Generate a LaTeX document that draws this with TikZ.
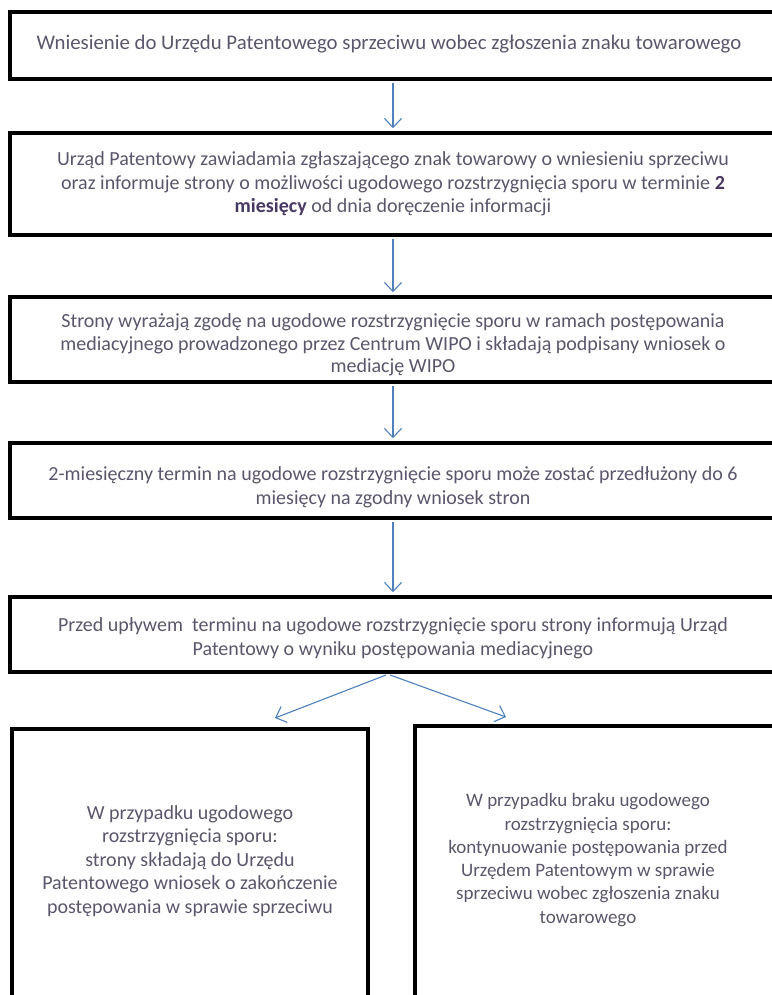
\documentclass[tikz,border=0pt]{standalone}
\usepackage{fontspec}
\setmainfont{Carlito}
\usetikzlibrary{arrows.meta}
\definecolor{txt}{RGB}{92,86,108}
\definecolor{txtb}{RGB}{72,56,98}
\definecolor{arr}{RGB}{79,129,189}
\begin{document}
\begin{tikzpicture}[x=1pt,y=-1pt,
  box/.style={draw=black,line width=4.5pt,rectangle,minimum width=766pt,inner sep=0pt},
  boxtext/.style={text=txt,align=center,font=\fontsize{20pt}{23.5pt}\selectfont,inner sep=0pt},
  lowbox/.style={draw=black,line width=4.5pt,rectangle,inner sep=0pt},
  flow/.style={draw=arr,line width=1.1pt,-{Straight Barb[length=9pt,width=17pt,line width=1.1pt]},shorten >=2.5pt,shorten <=2pt}]
\useasboundingbox (0,0) rectangle (771,995);
\fill[white] (0,0) rectangle (771,995);
% boxes
\node[box,minimum height=67pt] (b1) at (393,45.5) {};
\node[box,minimum height=102pt] (b2) at (393,184) {};
\node[box,minimum height=85pt] (b3) at (393,339.5) {};
\node[box,minimum height=75pt] (b4) at (393,480.5) {};
\node[box,minimum height=75pt] (b5) at (393,634.5) {};
\node[lowbox,minimum width=356pt,minimum height=283pt] (lb) at (190,870.5) {};
\node[lowbox,minimum width=375pt,minimum height=286pt] (rb) at (602.5,869) {};
% texts
\node[boxtext,font=\fontsize{20.8pt}{24pt}\selectfont] (t1) at ([xshift=-4pt,yshift=1.5pt]b1.center)
  {Wniesienie do Urzędu Patentowego sprzeciwu wobec zgłoszenia znaku towarowego};
\node[boxtext] (t2) at (b2.center)
  {Urząd Patentowy zawiadamia zgłaszającego znak towarowy o wniesieniu sprzeciwu\\
   oraz informuje strony o możliwości ugodowego rozstrzygnięcia sporu w terminie \textcolor{txtb}{\textbf{2}}\\
   \textcolor{txtb}{\textbf{miesięcy}} od dnia doręczenie informacji};
\node[boxtext,font=\fontsize{20pt}{22.5pt}\selectfont] (t3) at ([yshift=-5.5pt]b3.center)
  {Strony wyrażają zgodę na ugodowe rozstrzygnięcie sporu w ramach postępowania\\
   mediacyjnego prowadzonego przez Centrum WIPO i składają podpisany wniosek o\\
   mediację WIPO};
\node[boxtext] (t4) at ([yshift=-7pt]b4.center)
  {2-miesięczny termin na ugodowe rozstrzygnięcie sporu może zostać przedłużony do 6\\
   miesięcy na zgodny wniosek stron};
\node[boxtext] (t5) at ([yshift=-4pt]b5.center)
  {Przed upływem\ \ terminu na ugodowe rozstrzygnięcie sporu strony informują Urząd\\
   Patentowy o wyniku postępowania mediacyjnego};
\node[boxtext] (lt) at (190,861)
  {W przypadku ugodowego\\ rozstrzygnięcia sporu:\\ strony składają do Urzędu\\
   Patentowego wniosek o zakończenie\\ postępowania w sprawie sprzeciwu};
\node[boxtext,font=\fontsize{19pt}{23.3pt}\selectfont] (rt) at (588,860)
  {W przypadku braku ugodowego\\ rozstrzygnięcia sporu:\\ kontynuowanie postępowania przed\\
   Urzędem Patentowym w sprawie\\ sprzeciwu wobec zgłoszenia znaku\\ towarowego};
% connectors
\draw[flow] (b1.south) -- (b2.north);
\draw[flow] (b2.south) -- (b3.north);
\draw[flow] (b3.south) -- (b4.north);
\draw[flow] (b4.south) -- (b5.north);
\coordinate (sp) at ([xshift=-5pt]b5.south);
\coordinate (el) at (275,718);
\coordinate (er) at (506,717);
\draw[flow,shorten >=0pt] (sp) -- (el);
\draw[flow,shorten >=0pt] (sp) -- (er);
\end{tikzpicture}
\end{document}
